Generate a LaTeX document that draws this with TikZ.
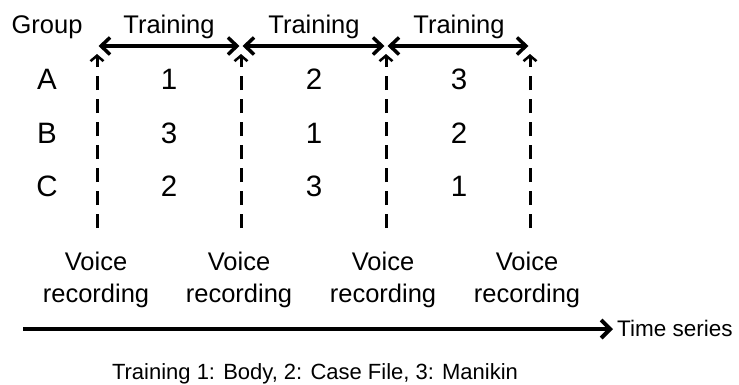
\documentclass[tikz,border=0pt]{standalone}
\usepackage{fontspec}
\setmainfont{Liberation Sans}
\usetikzlibrary{arrows.meta}
\begin{document}
\begin{tikzpicture}[x=1pt,y=-1pt,
  lbl/.style={inner sep=0pt,anchor=base,font=\fontsize{25.5}{32}\selectfont},
  cell/.style={inner sep=0pt,anchor=base,font=\fontsize{29.5}{34}\selectfont},
  period/.style={line width=3.5pt,{Straight Barb[length=9pt,width=17pt,line width=3.5pt]}-{Straight Barb[length=9pt,width=17pt,line width=3.5pt]},shorten <=1.5pt,shorten >=1.5pt},
  marker/.style={line width=3pt,dash pattern=on 14pt off 9pt,-{Straight Barb[length=5.5pt,width=13pt,line width=2.5pt]}},
  timeline/.style={line width=4.5pt,-{Straight Barb[length=9pt,width=18pt,line width=4pt]}}]
\useasboundingbox (0,0) rectangle (739,384);

% session boundaries: top of training arrows, tips and foot of the dashed markers
\foreach \i/\x in {0/97,1/241,2/386,3/530}{
  \coordinate (h\i) at (\x,46);
  \coordinate (t\i) at (\x,54);
  \coordinate (b\i) at (\x,228);
}

% header
\node[lbl] (group) at (47,33) {Group};
\foreach \i/\x in {1/169,2/314,3/459}
  \node[lbl] (train\i) at (\x,33) {Training};

% training periods
\draw[period] (h0) -- (h1);
\draw[period] (h1) -- (h2);
\draw[period] (h2) -- (h3);

% voice recording markers
\foreach \i in {0,1,2,3}
  \draw[marker] (b\i) -- (t\i);

% group rows and training orders
\node[cell] (gA) at (47,89) {A};
\node[cell] (gB) at (47,143) {B};
\node[cell] (gC) at (47,196) {C};
\node[cell] (a1) at (169,89) {1};
\node[cell] (a2) at (314,89) {2};
\node[cell] (a3) at (459,89) {3};
\node[cell] (b1n) at (169,143) {3};
\node[cell] (b2n) at (314,143) {1};
\node[cell] (b3n) at (459,143) {2};
\node[cell] (c1) at (169,196) {2};
\node[cell] (c2) at (314,196) {3};
\node[cell] (c3) at (459,196) {1};

% recording labels
\foreach \i/\x in {0/96,1/239,2/383,3/527}{
  \node[lbl] (voice\i) at (\x,270) {Voice};
  \node[lbl] (rec\i) at (\x,302) {recording};
}

% time axis
\coordinate (ts) at (23,329);
\node[inner sep=0pt,anchor=base west,font=\fontsize{22.5}{26}\selectfont] (tlabel) at (617,336) {Time series};
\coordinate (te) at (613,329);
\draw[timeline] (ts) -- (te);

% legend
\node[inner sep=0pt,anchor=base,font=\fontsize{22}{26}\selectfont] (legend) at (315,379) {Training 1: Body, 2: Case File, 3: Manikin};
\end{tikzpicture}
\end{document}
